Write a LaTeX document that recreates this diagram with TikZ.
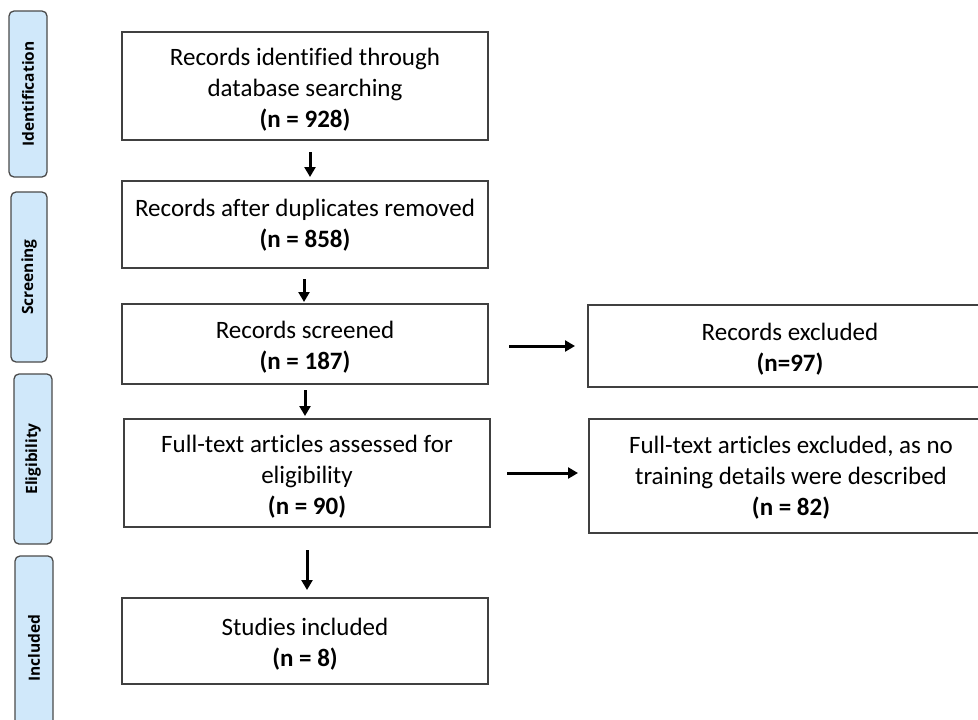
\documentclass[tikz,border=0pt]{standalone}
\usepackage{fontspec}
\setmainfont{Carlito}[Ligatures=NoCommon]
\newfontfamily\sidefont{Open Sans}
\usetikzlibrary{arrows.meta}
\definecolor{boxgray}{HTML}{404040}
\definecolor{sidegray}{HTML}{4A4A4A}
\definecolor{sideblue}{HTML}{D0E8FA}
\tikzset{
  box/.style={draw=boxgray, line width=1.3pt, inner sep=0pt},
  boxtext/.style={align=center, inner sep=0pt, yshift=-#1,
    font=\fontsize{25}{31}\selectfont},
  boxtext/.default=3pt,
  side/.style={draw=sidegray, fill=sideblue, rounded corners=5pt, line width=1.3pt,
    inner sep=0pt, rotate=90, font=\sidefont\bfseries\fontsize{15.5}{17}\selectfont},
  arr/.style={line width=3pt, -{Triangle[width=11pt,length=10pt]}}
}
\begin{document}
\begin{tikzpicture}[x=1pt,y=-1pt]
\useasboundingbox (0,0) rectangle (978,720);
\clip (0,0) rectangle (978,720);
% side labels
\node[side, minimum width=166pt, minimum height=38pt] (s1) at (28,94) {Identification};
\node[side, minimum width=170pt, minimum height=36pt] (s2) at (29,277) {Screening};
\node[side, minimum width=170pt, minimum height=38pt] (s3) at (33,459) {Eligibility};
\node[side, minimum width=184pt, minimum height=38pt] (s4) at (34,648) {Included};
% main boxes
\node[box, minimum width=366pt, minimum height=108pt,
  label={[boxtext=4pt]center:{Records identified through\\database searching\\\textbf{(n = 928)}}}] (b1) at (305,86) {};
\node[box, minimum width=366pt, minimum height=87pt,
  label={[boxtext=0.5pt]center:{Records after duplicates removed\\\textbf{(n = 858)}}}] (b2) at (305,224.5) {};
\node[box, minimum width=366pt, minimum height=80pt,
  label={[boxtext]center:{Records screened\\\textbf{(n = 187)}}}] (b3) at (305,344) {};
\node[box, minimum width=366pt, minimum height=108pt,
  label={[boxtext=4pt]center:{Full-text articles assessed for\\eligibility\\\textbf{(n = 90)}}}] (b4) at (307,473) {};
\node[box, minimum width=366pt, minimum height=86pt,
  label={[boxtext]center:{Studies included\\\textbf{(n = 8)}}}] (b5) at (305,641) {};
% right boxes
\node[box, minimum width=404pt, minimum height=82pt,
  label={[boxtext]center:{Records excluded\\\textbf{(n=97)}}}] (r1) at (790,346) {};
\node[box, minimum width=404pt, minimum height=114pt,
  label={[boxtext=1.5pt]center:{Full-text articles excluded, as no\\training details were described\\\textbf{(n = 82)}}}] (r2) at (791,476) {};
% arrow end points
\coordinate (a1s) at (310,152);  \coordinate (a1e) at (310,177);
\coordinate (a2s) at (304,279);  \coordinate (a2e) at (304,302);
\coordinate (a3s) at (305,390);  \coordinate (a3e) at (305,416);
\coordinate (a4s) at (307,550);  \coordinate (a4e) at (307,590);
\coordinate (h1s) at (509,346);  \coordinate (h1e) at (575,346);
\coordinate (h2s) at (507,473);  \coordinate (h2e) at (578,473);
% arrows
\draw[arr] (a1s) -- (a1e);
\draw[arr] (a2s) -- (a2e);
\draw[arr] (a3s) -- (a3e);
\draw[arr] (a4s) -- (a4e);
\draw[arr] (h1s) -- (h1e);
\draw[arr] (h2s) -- (h2e);
\end{tikzpicture}
\end{document}
